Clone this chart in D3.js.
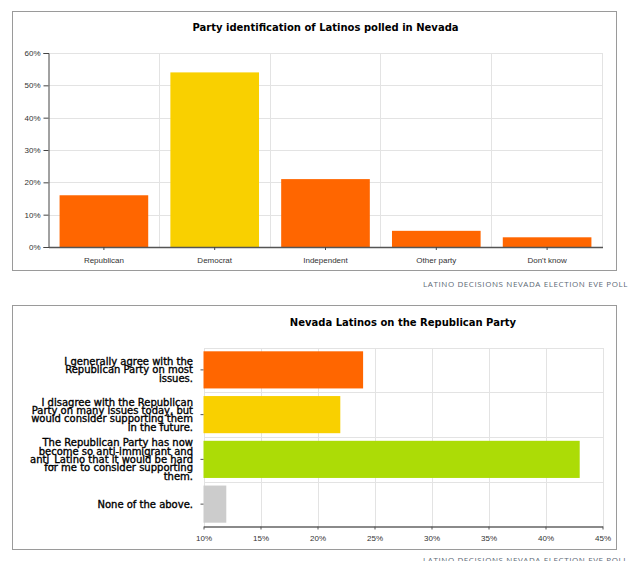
<!DOCTYPE html>
<html>
<head>
<meta charset="utf-8">
<script src="https://d3js.org/d3.v7.min.js"></script>
<style>
 body { margin: 0; background: #fff; }
 svg { display: block; font-family: "DejaVu Sans", Verdana, sans-serif; }
 .grid line { stroke: #e3e3e3; stroke-width: 1; shape-rendering: crispEdges; }
 .axis text { font-size: 8px; fill: #333; }
 .title { font-size: 10px; font-weight: bold; fill: #000; }
 .caption { font-family: "Open Sans", sans-serif; font-size: 8px; letter-spacing: 0.6px; fill: #5d6975; }
</style>
</head>
<body>
<svg id="chart" width="629" height="561"></svg>
<script>
// party identification chart
var partyCats = ["Republican", "Democrat", "Independent", "Other party", "Don't know"];
var partyValues = [16, 54, 21, 5, 3];
var partyColors = ["#ff6600", "#f9d000", "#ff6600", "#ff6600", "#ff6600"];
var partyTicks = [0, 10, 20, 30, 40, 50, 60];

// opinion of the Republican party chart
var opinionCats = [
  ["I generally agree with the", "Republican Party on most", "issues."],
  ["I disagree with the Republican", "Party on many issues today, but", "would consider supporting them", "in the future."],
  ["The Republican Party has now", "become so anti-immigrant and", "anti_Latino that it would be hard", "for me to consider supporting", "them."],
  ["None of the above."]
];
var opinionValues = [24, 22, 43, 12];
var opinionColors = ["#ff6600", "#f9d000", "#acdc06", "#cccccc"];
var opinionTicks = [10, 15, 20, 25, 30, 35, 40, 45];

var captionText = "LATINO DECISIONS NEVADA ELECTION EVE POLL";

var svg = d3.select("#chart");

// ---------- chart 1 ----------
var c1 = {left: 48.5, right: 602.5, top: 53, bottom: 247};
svg.append("rect").attr("x", 12.5).attr("y", 11.5).attr("width", 604).attr("height", 259)
   .attr("fill", "#fff").attr("stroke", "#9a9a9a");

var x1 = d3.scaleBand().domain(d3.range(partyCats.length))
           .range([c1.left, c1.right]).paddingInner(0.2).paddingOuter(0.1);
var y1 = d3.scaleLinear().domain([0, 60]).range([c1.bottom, c1.top]);

var g1 = svg.append("g");
// grid
var grid1 = g1.append("g").attr("class", "grid");
grid1.selectAll(".h").data(partyTicks).join("line")
     .attr("x1", c1.left).attr("x2", c1.right)
     .attr("y1", function(d) { return Math.round(y1(d)) + 0.5; })
     .attr("y2", function(d) { return Math.round(y1(d)) + 0.5; });
grid1.selectAll(".v").data(d3.range(1, partyCats.length + 1)).join("line")
     .attr("x1", function(d) { return x1.step() * d + c1.left; })
     .attr("x2", function(d) { return x1.step() * d + c1.left; })
     .attr("y1", c1.top).attr("y2", c1.bottom);

g1.selectAll(".bar").data(partyValues).join("rect")
  .attr("x", function(d, i) { return x1(i); })
  .attr("width", x1.bandwidth())
  .attr("y", function(d) { return y1(d); })
  .attr("height", function(d) { return y1(0) - y1(d); })
  .attr("fill", function(d, i) { return partyColors[i]; });

var yAxis1 = g1.append("g").attr("class", "axis")
   .attr("transform", "translate(" + c1.left + ",0)")
   .call(d3.axisLeft(y1).tickValues(partyTicks).tickSize(5).tickPadding(3)
           .tickFormat(function(d) { return d + "%"; }));
yAxis1.select(".domain").attr("stroke", "#444");
yAxis1.selectAll(".tick line").attr("stroke", "#444");

var xAxis1 = g1.append("g").attr("class", "axis")
   .attr("transform", "translate(0," + c1.bottom + ")")
   .call(d3.axisBottom(x1).tickSize(3).tickSizeOuter(0).tickPadding(7)
           .tickFormat(function(i) { return partyCats[i]; }));
xAxis1.select(".domain").attr("stroke", "#555").attr("stroke-width", 1.5);
xAxis1.selectAll(".tick line").attr("stroke", "#444");

svg.append("text").attr("class", "title")
   .attr("x", (c1.left + c1.right) / 2).attr("y", 30.5)
   .attr("text-anchor", "middle")
   .text("Party identification of Latinos polled in Nevada");

svg.append("text").attr("class", "caption")
   .attr("x", 423).attr("y", 286.5).text(captionText);

// ---------- chart 2 ----------
var c2 = {left: 203.5, right: 602.5, top: 347.5, bottom: 526.5};
svg.append("rect").attr("x", 12.5).attr("y", 305.5).attr("width", 604).attr("height", 244)
   .attr("fill", "#fff").attr("stroke", "#9a9a9a");

var x2 = d3.scaleLinear().domain([10, 45]).range([c2.left, c2.right]);
var y2 = d3.scaleBand().domain(d3.range(opinionCats.length))
           .range([c2.top, c2.bottom]).paddingInner(0.17).paddingOuter(0.085);

var g2 = svg.append("g");
var grid2 = g2.append("g").attr("class", "grid");
grid2.selectAll(".v").data(opinionTicks).join("line")
     .attr("x1", function(d) { return Math.round(x2(d)) + 0.5; })
     .attr("x2", function(d) { return Math.round(x2(d)) + 0.5; })
     .attr("y1", c2.top).attr("y2", c2.bottom);
grid2.selectAll(".h").data(d3.range(0, opinionCats.length)).join("line")
     .attr("x1", c2.left).attr("x2", c2.right)
     .attr("y1", function(d) { return Math.round(c2.top + y2.step() * d) + 0.5; })
     .attr("y2", function(d) { return Math.round(c2.top + y2.step() * d) + 0.5; });

g2.selectAll(".bar").data(opinionValues).join("rect")
  .attr("x", x2(10))
  .attr("width", function(d) { return x2(d) - x2(10); })
  .attr("y", function(d, i) { return y2(i); })
  .attr("height", y2.bandwidth())
  .attr("fill", function(d, i) { return opinionColors[i]; });

var xAxis2 = g2.append("g").attr("class", "axis")
   .attr("transform", "translate(0," + c2.bottom + ")")
   .call(d3.axisBottom(x2).tickValues(opinionTicks).tickSize(3).tickSizeOuter(0).tickPadding(6)
           .tickFormat(function(d) { return d + "%"; }));
xAxis2.select(".domain").attr("stroke", "#8a8a8a").attr("stroke-width", 2);
xAxis2.selectAll(".tick line").attr("stroke", "#555");

// category labels with small ticks
var yAxis2 = g2.append("g").attr("class", "axis")
   .attr("transform", "translate(" + c2.left + ",0)")
   .call(d3.axisLeft(y2).tickSize(3).tickSizeOuter(0).tickFormat(""));
yAxis2.select(".domain").remove();
yAxis2.selectAll(".tick line").attr("stroke", "#555");

var lineH = 8.3;
g2.selectAll(".lbl").data(opinionCats).join("text")
  .attr("text-anchor", "end")
  .attr("font-size", "10px")
  .attr("fill", "#000")
  .attr("stroke", "#000").attr("stroke-width", 0.35)
  .each(function(lines, i) {
    var cy = y2(i) + y2.bandwidth() / 2;
    var t = d3.select(this);
    lines.forEach(function(s, k) {
      t.append("tspan").attr("x", 193)
       .attr("y", cy + (k - (lines.length - 1) / 2) * lineH + 3.6)
       .text(s);
    });
  });

svg.append("text").attr("class", "title")
   .attr("x", (c2.left + c2.right) / 2).attr("y", 325.5)
   .attr("text-anchor", "middle")
   .text("Nevada Latinos on the Republican Party");

svg.append("text").attr("class", "caption")
   .attr("x", 423).attr("y", 563).text(captionText);
</script>
</body>
</html>
